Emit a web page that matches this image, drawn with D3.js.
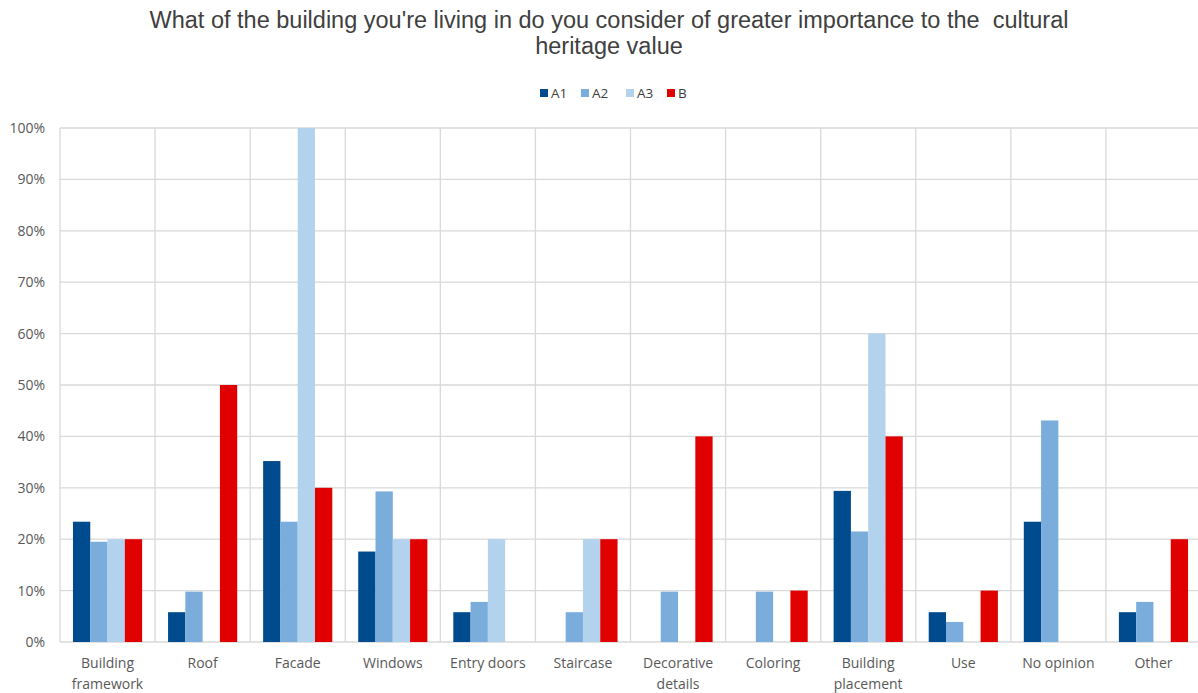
<!DOCTYPE html>
<html>
<head>
<meta charset="utf-8">
<script src="https://cdn.jsdelivr.net/npm/d3@7"></script>
<style>
  html, body { margin: 0; padding: 0; background: #fff; }
  svg { display: block; font-family: "Open Sans", "Liberation Sans", sans-serif; }
</style>
</head>
<body>
<svg id="chart" width="1198" height="693"></svg>
<script>
const categories = ["Building framework", "Roof", "Facade", "Windows", "Entry doors", "Staircase",
  "Decorative details", "Coloring", "Building placement", "Use", "No opinion", "Other"];
const categoryLines = [["Building", "framework"], ["Roof"], ["Facade"], ["Windows"], ["Entry doors"], ["Staircase"],
  ["Decorative", "details"], ["Coloring"], ["Building", "placement"], ["Use"], ["No opinion"], ["Other"]];
const seriesNames = ["A1", "A2", "A3", "B"];
const seriesColors = ["#004b8d", "#7aaddc", "#b2d2ee", "#e00000"];
const A1 = [23.4, 5.8, 35.2, 17.6, 5.8, 0, 0, 0, 29.4, 5.8, 23.4, 5.8];
const A2 = [19.5, 9.8, 23.4, 29.3, 7.8, 5.8, 9.8, 9.8, 21.5, 3.9, 43.1, 7.8];
const A3 = [20, 0, 100, 20, 20, 20, 0, 0, 60, 0, 0, 0];
const B  = [20, 50, 30, 20, 0, 20, 40, 10, 40, 10, 0, 20];
const yTicks = [0, 10, 20, 30, 40, 50, 60, 70, 80, 90, 100];
const titleLines = ["What of the building you're living in do you consider of greater importance to the  cultural", "heritage value"];

const seriesValues = [A1, A2, A3, B];
const svg = d3.select("#chart");
const margin = { left: 60, right: 1201, top: 128, bottom: 642 };

const x0 = d3.scaleBand().domain(categories).range([margin.left, margin.right]).paddingInner(0).paddingOuter(0);
const x1 = d3.scaleBand().domain(seriesNames).range([0, x0.bandwidth()]).paddingInner(0).paddingOuter(0.75);
const y = d3.scaleLinear().domain([0, 100]).range([margin.bottom, margin.top]);

// horizontal gridlines
svg.append("g").selectAll("line").data(yTicks).join("line")
  .attr("x1", margin.left).attr("x2", margin.right)
  .attr("y1", d => y(d)).attr("y2", d => y(d))
  .attr("stroke", "#d9d9d9").attr("stroke-width", 1.3);

// vertical category separators
const seps = categories.map(c => x0(c)).concat([margin.right]);
svg.append("g").selectAll("line").data(seps).join("line")
  .attr("x1", d => d).attr("x2", d => d)
  .attr("y1", margin.top).attr("y2", margin.bottom)
  .attr("stroke", "#d9d9d9").attr("stroke-width", 1.3);

// y axis labels
const yAxis = d3.axisLeft(y).tickValues(yTicks).tickFormat(d => d + "%").tickSize(0).tickPadding(15);
const ya = svg.append("g").attr("transform", `translate(${margin.left},0)`).call(yAxis);
ya.select(".domain").remove();
ya.selectAll("text").attr("font-size", 14).attr("fill", "#595959")
  .attr("font-family", "'Open Sans', sans-serif");

// bars
const bars = [];
categories.forEach((c, i) => {
  seriesNames.forEach((s, j) => {
    bars.push({ cat: c, series: s, value: seriesValues[j][i], color: seriesColors[j] });
  });
});
svg.append("g").selectAll("rect").data(bars).join("rect")
  .attr("x", d => x0(d.cat) + x1(d.series))
  .attr("width", x1.bandwidth())
  .attr("y", d => y(d.value))
  .attr("height", d => y(0) - y(d.value))
  .attr("fill", d => d.color);

// x labels
const xl = svg.append("g").selectAll("text").data(categories).join("text")
  .attr("x", d => x0(d) + x0.bandwidth() / 2)
  .attr("y", 668)
  .attr("text-anchor", "middle")
  .attr("font-size", 14)
  .attr("fill", "#595959");
xl.each(function(d, i) {
  const t = d3.select(this);
  categoryLines[i].forEach((line, k) => {
    t.append("tspan").attr("x", x0(d) + x0.bandwidth() / 2).attr("dy", k === 0 ? 0 : 21).text(line);
  });
});

// title
svg.append("g").selectAll("text").data(titleLines).join("text")
  .attr("x", 609).attr("y", (d, i) => 28 + i * 26)
  .attr("text-anchor", "middle")
  .attr("font-size", 23.5)
  .attr("font-family", "'Liberation Sans', sans-serif")
  .attr("fill", "#404040")
  .style("white-space", "pre")
  .text(d => d);

// legend
const legendX = [540, 581, 626, 667];
const lg = svg.append("g").selectAll("g").data(seriesNames).join("g")
  .attr("transform", (d, i) => `translate(${legendX[i]},93)`);
lg.append("rect").attr("x", 0).attr("y", -4).attr("width", 8).attr("height", 8)
  .attr("fill", (d, i) => seriesColors[i]);
lg.append("text").attr("x", 11).attr("y", 5).attr("font-size", 13.5).attr("fill", "#404040").text(d => d);
</script>
</body>
</html>
